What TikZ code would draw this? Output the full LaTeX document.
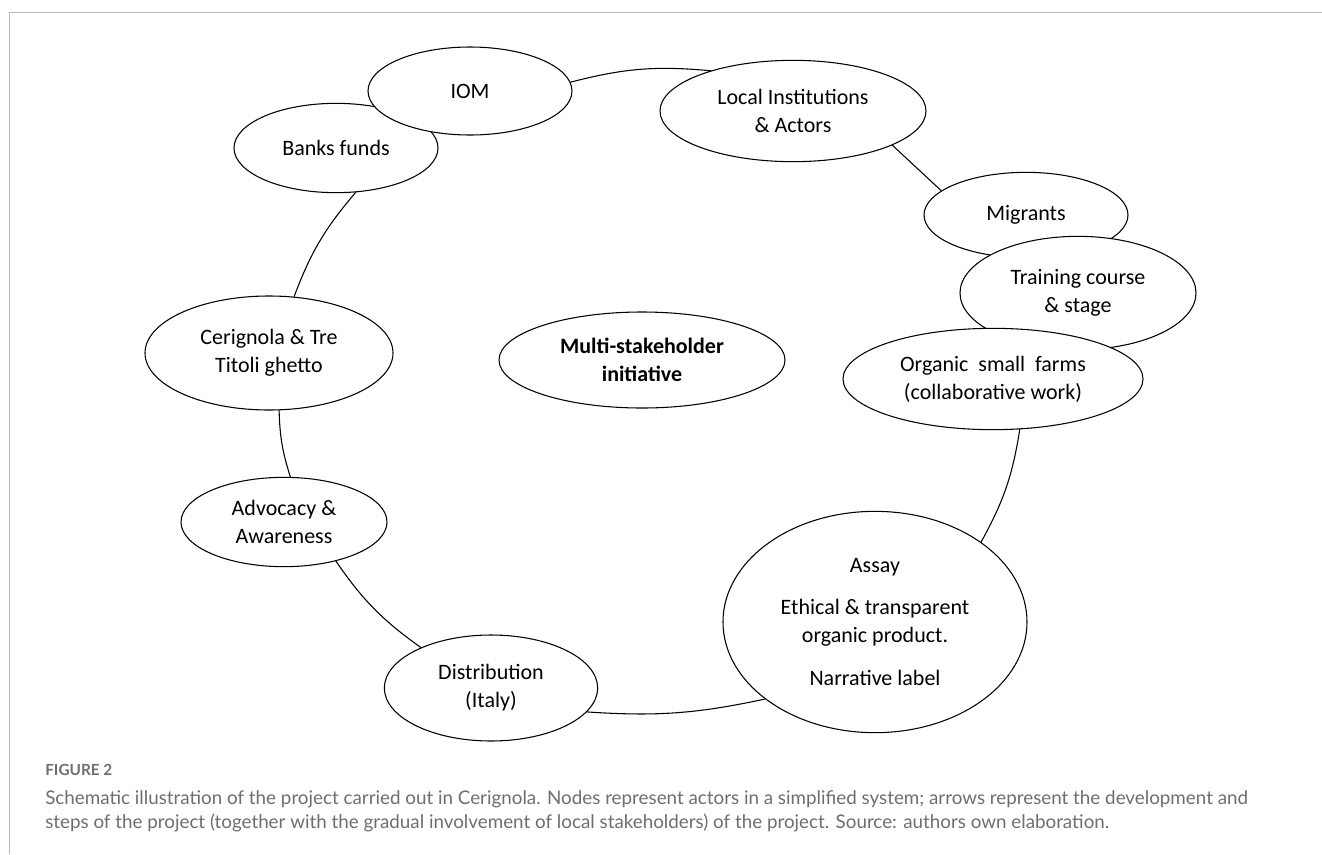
\documentclass[tikz,border=0pt]{standalone}
\usepackage{fontspec}
\usetikzlibrary{shapes.geometric}
\newfontfamily\calib{Carlito}
\newfontfamily\capfont{Lato}
\definecolor{capgray}{RGB}{110,110,110}
\definecolor{framegray}{RGB}{185,185,185}

\begin{document}
\begin{tikzpicture}[line cap=round,line join=round,x=0.75pt,y=-0.75pt,
	actor/.style={ellipse, draw, line width=0.8pt, fill=white, inner sep=0pt, align=center,
		font=\calib\fontsize{16.5}{21}\selectfont},
	link/.style={draw, line width=0.8pt},
	captext/.style={anchor=base west, inner sep=0pt, text=capgray, font=\capfont\fontsize{14.1}{18}\selectfont}]

		\useasboundingbox (0,0) rectangle (1322,854);

		%kehys
		\draw[color=framegray] (9,854) -- (9,12) -- (1322,12);

		%solmut (piirtojarjestys: paallekkaiset viimeisena)
		\node[actor, minimum width=153pt, minimum height=67pt] (banks) at (336,148) {Banks funds};
		\node[actor, minimum width=153pt, minimum height=66pt] (iom) at (470,91) {IOM};
		\node[actor, minimum width=199.5pt, minimum height=76pt] (local) at (793,111) {Local Institutions\\\& Actors};
		\node[actor, minimum width=153pt, minimum height=64pt] (migr) at (1026,215) {Migrants};
		\node[actor, minimum width=177pt, minimum height=85pt] (train) at (1078,293) {Training course\\\& stage};
		\node[actor, minimum width=225pt, minimum height=76pt] (farms) at (993,379) {Organic\ \ small\ \ farms\\(collaborative work)};
		\node[actor, minimum width=214.5pt, minimum height=72pt, font=\calib\bfseries\fontsize{16.5}{21}\selectfont] (multi) at (642,360) {Multi-stakeholder\\initiative};
		\node[actor, minimum width=186pt, minimum height=85.5pt] (ceri) at (269,353) {Cerignola \& Tre\\Titoli ghetto};
		\node[actor, minimum width=154.5pt, minimum height=67pt] (advo) at (284,522) {Advocacy \&\\Awareness};
		\node[actor, minimum width=160pt, minimum height=79.5pt] (distr) at (491,688) {Distribution\\(Italy)};
		\node[actor, minimum width=228pt, minimum height=166pt] (assay) at (875,622) {Assay\\[11pt]Ethical \& transparent\\organic product.\\[11pt]Narrative label};

		% yhteydet
		\draw[link] (iom.5) to[bend left=10] (local.154);
		\draw[link] (local.341) -- (migr.164);
		\draw[link] (farms.298) to[bend left=10] (assay.37);
		\draw[link] (assay.215) to[bend left=8] (distr.346);
		\draw[link] (distr.150) to[bend left=10] (advo.323);
		\draw[link] (advo.82) to[bend left=8] (ceri.280);
		\draw[link] (ceri.66) to[bend left=10] (banks.294);

		% kuvateksti
		\node[captext, font=\capfont\bfseries\fontsize{11.5}{18}\selectfont] (fig) at (45,775) {FIGURE 2};
		\node[captext] (cap1) at (45,804) {Schematic illustration of the project carried out in Cerignola. Nodes represent actors in a simplified system; arrows represent the development and};
		\node[captext] (cap2) at (45,828) {steps of the project (together with the gradual involvement of local stakeholders) of the project. Source: authors own elaboration.};

	\end{tikzpicture}
\end{document}
